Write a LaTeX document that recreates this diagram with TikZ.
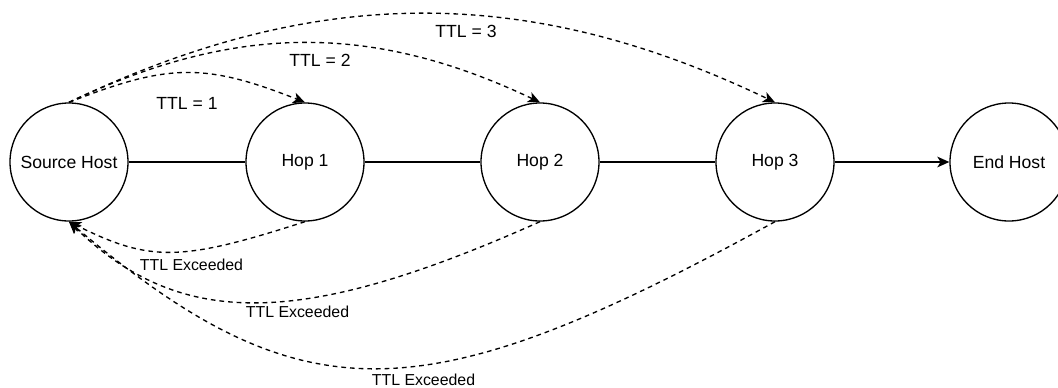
\documentclass[tikz,border=0pt]{standalone}
\usepackage{fontspec}
\setmainfont{Liberation Sans}
\usetikzlibrary{arrows.meta}

\begin{document}
\begin{tikzpicture}[x=0.75pt, y=-0.75pt, line width=1pt,
        >={Stealth[length=9pt, width=8pt, inset=2.4pt]},
        host/.style={draw, circle, minimum size=88.5pt, inner sep=0pt,
            font=\fontsize{13.2}{15}\selectfont},
        probe/.style={->, dash pattern=on 3.5pt off 3pt},
        ttl/.style={font=\fontsize{13.2}{15}\selectfont},
        exc/.style={font=\fontsize{11.9}{14}\selectfont}]
        \useasboundingbox (0,0) rectangle (1058,387);
        \node[host] (src)  at (69,162)   {Source Host};
        \node[host] (hop1) at (305,162)  {Hop 1};
        \node[host] (hop2) at (540,162)  {Hop 2};
        \node[host] (hop3) at (775,162)  {Hop 3};
        \node[host] (dst)  at (1009,162) {End Host};
        \draw (src) -- (hop1);
        \draw (hop1) -- (hop2);
        \draw (hop2) -- (hop3);
        \draw[->] (hop3) -- (dst);
        % probes sent out
        \draw[probe] (src.north) .. controls (169,63) and (205,63) .. (hop1.north);
        \draw[probe] (src.north) .. controls (236,23) and (373,23) .. (hop2.north);
        \draw[probe] (src.north) .. controls (316,-16) and (528,-16) .. (hop3.north);
        \node[ttl] (t1) at (187,103) {TTL = 1};
        \node[ttl] (t2) at (320,60)  {TTL = 2};
        \node[ttl] (t3) at (466,31)  {TTL = 3};
        % replies coming back
        \draw[probe] (hop1.south) .. controls (180,262) and (150,262) .. (src.south);
        \draw[probe] (hop2.south) .. controls (300,329) and (180,329) .. (src.south);
        \draw[probe] (hop3.south) .. controls (420,417) and (301,417) .. (src.south);
        \node[exc] (e1) at (191.5,264.5) {TTL Exceeded};
        \node[exc] (e2) at (297.5,311.5) {TTL Exceeded};
        \node[exc] (e3) at (423.5,380)   {TTL Exceeded};
    \end{tikzpicture}
\end{document}
